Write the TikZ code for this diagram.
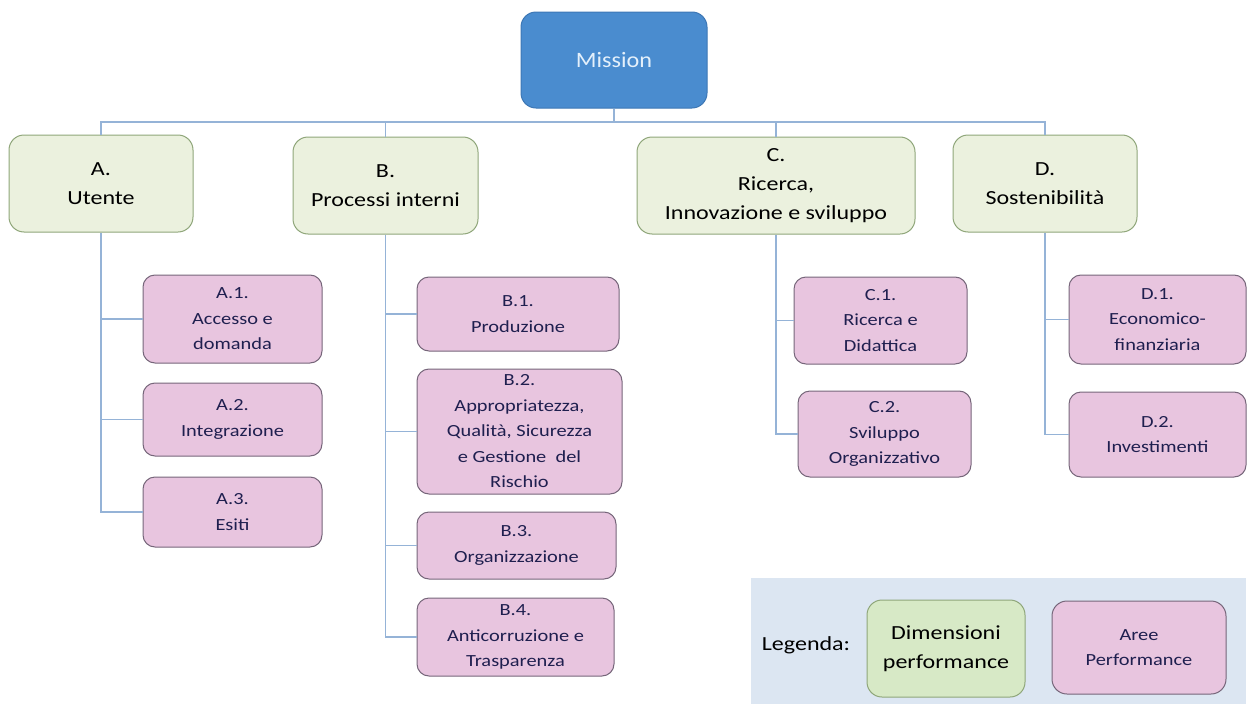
\documentclass[tikz,border=0pt]{standalone}
\usepackage{fontspec}
\setmainfont{Carlito}[FakeStretch=1.2]
\newfontfamily\missionfont{Carlito}[FakeStretch=1.1]
\definecolor{missionfill}{HTML}{4A8CCF}
\definecolor{missionline}{HTML}{3D77B5}
\definecolor{missiontext}{HTML}{E4F0FB}
\definecolor{greenfill}{HTML}{EBF1DE}
\definecolor{greenline}{HTML}{8FA67A}
\definecolor{legendgreen}{HTML}{D7E9C6}
\definecolor{pinkfill}{HTML}{E8C5DF}
\definecolor{pinkline}{HTML}{76667A}
\definecolor{pinktext}{HTML}{1F1F4F}
\definecolor{connline}{HTML}{95B3D7}
\definecolor{legendbg}{HTML}{DCE6F2}
\begin{document}
\begin{tikzpicture}[x=1pt,y=-1pt,
  missionbox/.style={draw=missionline, fill=missionfill, line width=1pt, rounded corners=15pt, text=missiontext, font=\missionfont\fontsize{22}{28}\selectfont, inner sep=0pt, align=center},
  dimbox/.style={draw=greenline, fill=greenfill, line width=1pt, rounded corners=15pt, text=black, font=\fontsize{20}{29}\selectfont, inner sep=0pt, align=center},
  areabox/.style={draw=pinkline, fill=pinkfill, line width=1pt, rounded corners=12pt, text=pinktext, font=\fontsize{17}{25.5}\selectfont, inner sep=0pt, align=center},
  conn/.style={draw=connline, line width=1.2pt}
]
\useasboundingbox (0,0) rectangle (1248,704);

% Legend background
\fill[legendbg] (751,578) rectangle (1246,704);

% Mission
\node[missionbox, minimum width=186pt, minimum height=96pt] (M) at (614,60) {Mission};

% Dimensions
\node[dimbox, minimum width=184pt, minimum height=97pt] (A) at (101,183.5) {A.\\Utente};
\node[dimbox, minimum width=185pt, minimum height=97pt] (B) at (385.5,185.5) {B.\\Processi interni};
\node[dimbox, minimum width=278pt, minimum height=97pt] (C) at (776,185.5) {C.\\Ricerca,\\Innovazione e sviluppo};
\node[dimbox, minimum width=184pt, minimum height=97pt] (D) at (1045,183.5) {D.\\Sostenibilità};

% Areas
\node[areabox, minimum width=179pt, minimum height=88pt] (A1) at (232.5,319) {A.1.\\Accesso e\\domanda};
\node[areabox, minimum width=179pt, minimum height=73pt] (A2) at (232.5,419.5) {A.2.\\Integrazione};
\node[areabox, minimum width=179pt, minimum height=70pt] (A3) at (232.5,512) {A.3.\\Esiti};

\node[areabox, minimum width=202pt, minimum height=74pt] (B1) at (518,314) {B.1.\\Produzione};
\node[areabox, minimum width=205pt, minimum height=125pt] (B2) at (519.5,431.5) {B.2.\\Appropriatezza,\\Qualità, Sicurezza\\e Gestione\ \ del\\Rischio};
\node[areabox, minimum width=199pt, minimum height=67pt] (B3) at (516.5,545.5) {B.3.\\Organizzazione};
\node[areabox, minimum width=197pt, minimum height=78pt] (B4) at (515.5,637) {B.4.\\Anticorruzione e\\Trasparenza};

\node[areabox, minimum width=173pt, minimum height=87pt] (C1) at (880.5,320.5) {C.1.\\Ricerca e\\Didattica};
\node[areabox, minimum width=173pt, minimum height=86pt] (C2) at (884.5,434) {C.2.\\Sviluppo\\Organizzativo};

\node[areabox, minimum width=177pt, minimum height=89pt] (D1) at (1157.5,319.5) {D.1.\\Economico-\\finanziaria};
\node[areabox, minimum width=177pt, minimum height=85pt] (D2) at (1157.5,434.5) {D.2.\\Investimenti};

% Legend
\node[font=\fontsize{20}{24}\selectfont, text=black, inner sep=0pt] (LT) at (806,645) {Legenda:};
\node[dimbox, fill=legendgreen, minimum width=158pt, minimum height=97pt] (LG) at (946,648.5) {Dimensioni\\performance};
\node[areabox, rounded corners=15pt, minimum width=174pt, minimum height=93pt] (LP) at (1139,647.5) {Aree\\Performance};

% Connectors
\coordinate (bus) at (614,122);
\draw[conn] (M.south) -- (M.south |- bus);
\draw[conn] (A.north) -- (A.north |- bus) -- (D.north |- bus) -- (D.north);
\draw[conn] (B.north) -- (B.north |- bus);
\draw[conn] (C.north) -- (C.north |- bus);

\draw[conn] (A.south) -- (A.south |- A3.west) -- (A3.west);
\draw[conn] (A.south |- A1.west) -- (A1.west);
\draw[conn] (A.south |- A2.west) -- (A2.west);

\draw[conn] (B.south) -- (B.south |- B4.west) -- (B4.west);
\draw[conn] (B.south |- B1.west) -- (B1.west);
\draw[conn] (B.south |- B2.west) -- (B2.west);
\draw[conn] (B.south |- B3.west) -- (B3.west);

\draw[conn] (C.south) -- (C.south |- C2.west) -- (C2.west);
\draw[conn] (C.south |- C1.west) -- (C1.west);

\draw[conn] (D.south) -- (D.south |- D2.west) -- (D2.west);
\draw[conn] (D.south |- D1.west) -- (D1.west);
\end{tikzpicture}
\end{document}
